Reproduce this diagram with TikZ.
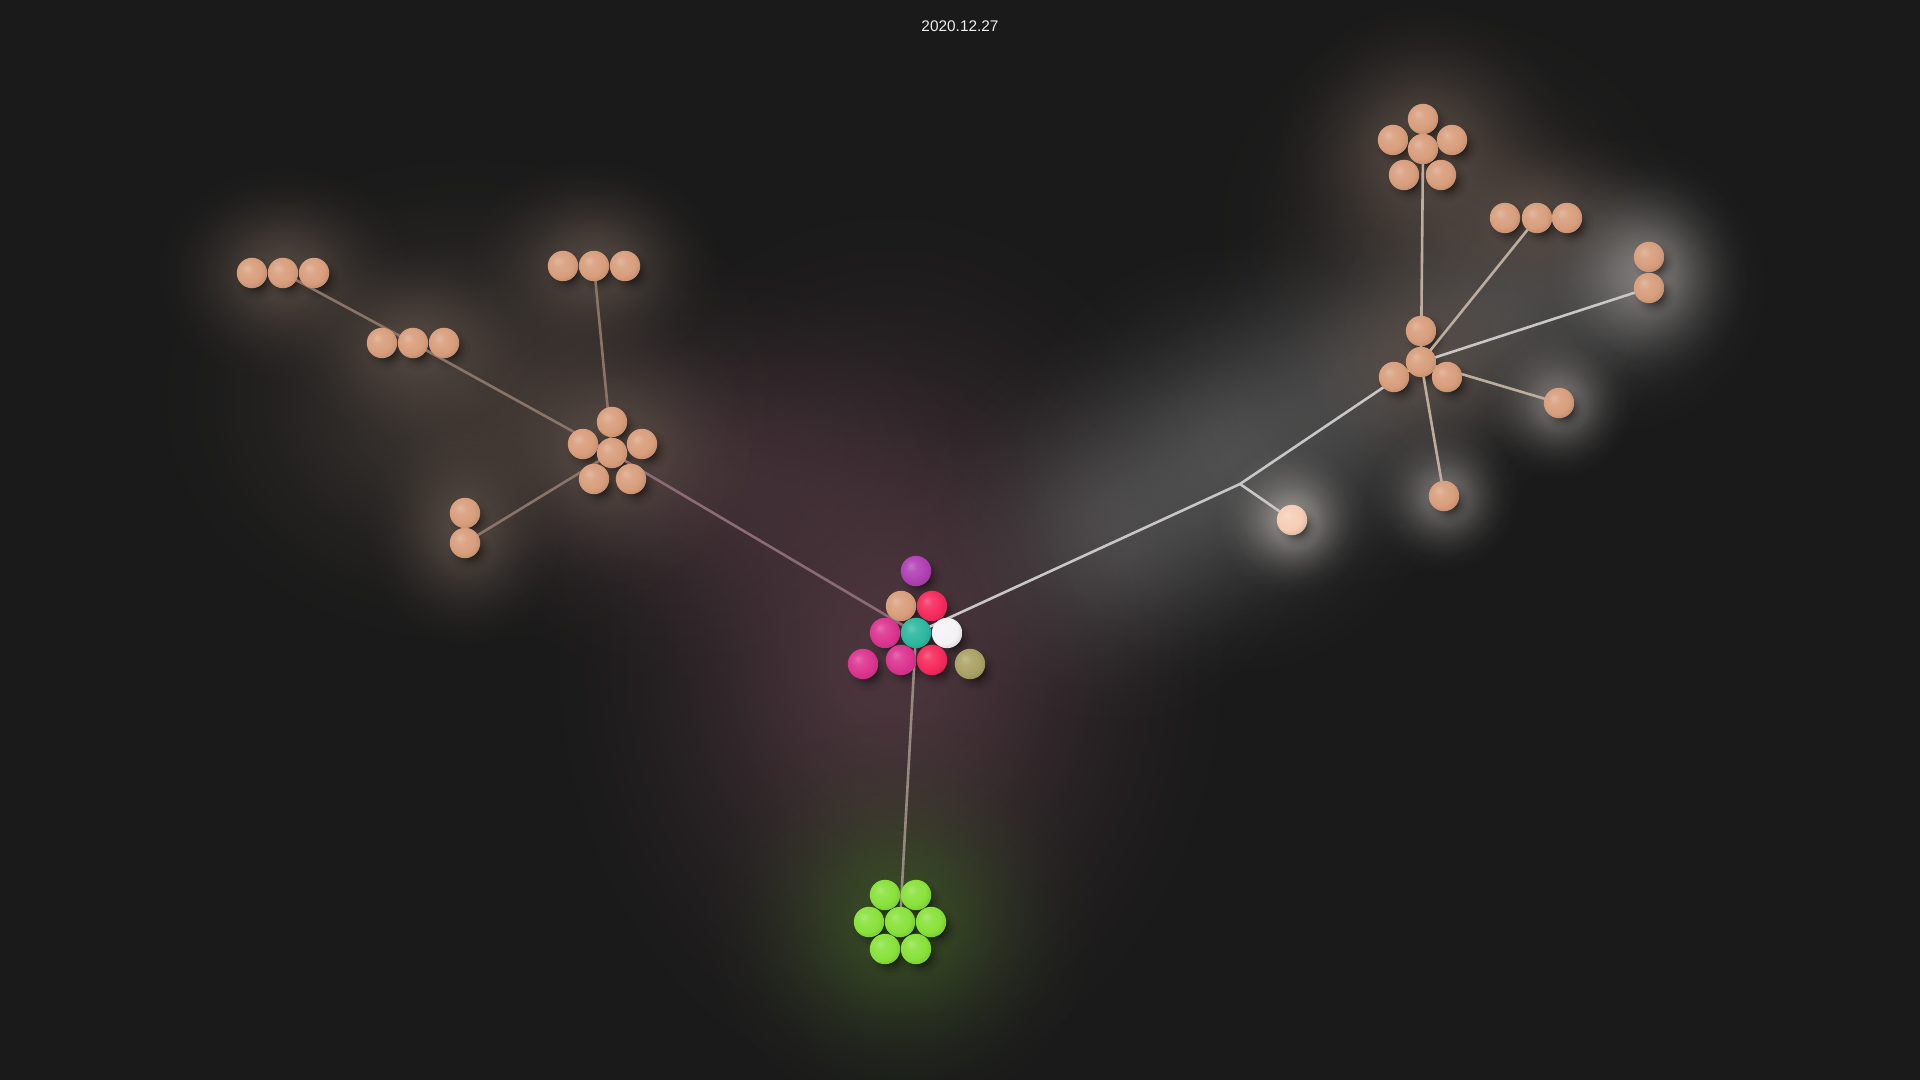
\documentclass[tikz,border=0pt]{standalone}
\usepackage{fontspec}
\setmainfont{Liberation Sans}
\usetikzlibrary{fadings}
\pgfdeclareradialshading{softsh}{\pgfpointorigin}{%
  color(0bp)=(black!0); color(4bp)=(black!10); color(8bp)=(black!32);
  color(12bp)=(black!58); color(16bp)=(black!78); color(20bp)=(black!92);
  color(25bp)=(black!100); color(50bp)=(black!100)}
\pgfdeclarefading{softfade}{\pgfuseshading{softsh}}
\makeatletter
\pgfdeclareradialshading[tikz@ball]{matteball}{\pgfpoint{-9bp}{9bp}}{%
  color(0bp)=(tikz@ball!72!white);
  color(9bp)=(tikz@ball!90!white);
  color(22bp)=(tikz@ball);
  color(34bp)=(tikz@ball!85!black);
  color(50bp)=(tikz@ball!78!black)}
\makeatother
\pgfdeclarelayer{glowl}
\pgfdeclarelayer{shadl}
\pgfdeclarelayer{linel}
\pgfsetlayers{glowl,shadl,linel,main}
\definecolor{bgc}{HTML}{1A1A1A}
\definecolor{tanb}{HTML}{D89E7C}
\definecolor{cpurple}{HTML}{B040B4}
\definecolor{cred}{HTML}{F52A5C}
\definecolor{cpink}{HTML}{DC3490}
\definecolor{cteal}{HTML}{2CB8A0}
\definecolor{cwhite}{HTML}{F4F2F4}
\definecolor{colive}{HTML}{AAA264}
\definecolor{cgreen}{HTML}{88E23A}
\definecolor{cpeach}{HTML}{F6CDB4}
\definecolor{glowtan}{HTML}{5E5048}
\definecolor{glowred}{HTML}{503840}
\definecolor{glowgrey}{HTML}{747474}
\definecolor{glowwhite}{HTML}{B8B2AE}
\definecolor{glowgreen}{HTML}{3E5E26}
\definecolor{lineL}{HTML}{8A7468}
\definecolor{lineC}{HTML}{8C6A78}
\definecolor{lineR}{HTML}{BCAE9F}
\definecolor{lineJ}{HTML}{C8C6C6}
\definecolor{lineD}{HTML}{968A80}
\tikzset{
  sph/.style={circle, inner sep=0pt, minimum size=15.2pt, ball color=#1, shading=matteball},
  edge/.style={line width=1.3pt, draw=#1, line cap=round},
  glow/.style={fill=#1, path fading=softfade},
  shadowdisc/.style={fill=black, fill opacity=0.75, path fading=softfade},
}
\begin{document}
\begin{tikzpicture}[x=0.5pt, y=-0.5pt]
\useasboundingbox (0,0) rectangle (1920,1080);
% ---------- center cluster
\node[sph=cpurple] (cP) at (916,571) {};
\node[sph=tanb]    (cT) at (901,606) {};
\node[sph=cred]    (cR1) at (932,606) {};
\node[sph=cpink]   (cK1) at (885,633) {};
\node[sph=cteal]   (cG) at (916,633) {};
\node[sph=cwhite]  (cW) at (947,633) {};
\node[sph=cpink]   (cK2) at (863,664) {};
\node[sph=cpink]   (cK3) at (901,660) {};
\node[sph=cred]    (cR2) at (932,660) {};
\node[sph=colive]  (cO) at (970,664) {};
% ---------- green cluster
\node[sph=cgreen] (g1) at (885,895) {};
\node[sph=cgreen] (g2) at (916,895) {};
\node[sph=cgreen] (g3) at (869,922) {};
\node[sph=cgreen] (g4) at (900,922) {};
\node[sph=cgreen] (g5) at (931,922) {};
\node[sph=cgreen] (g6) at (885,949) {};
\node[sph=cgreen] (g7) at (916,949) {};
% ---------- left hub
\node[sph=tanb] (h1) at (612,422) {};
\node[sph=tanb] (h2) at (583,444) {};
\node[sph=tanb] (h3) at (612,453) {};
\node[sph=tanb] (h4) at (642,444) {};
\node[sph=tanb] (h5) at (594,479) {};
\node[sph=tanb] (h6) at (631,479) {};
% rows left
\node[sph=tanb] (L1a) at (252,273) {};
\node[sph=tanb] (L1b) at (283,273) {};
\node[sph=tanb] (L1c) at (314,273) {};
\node[sph=tanb] (L2a) at (382,343) {};
\node[sph=tanb] (L2b) at (413,343) {};
\node[sph=tanb] (L2c) at (444,343) {};
\node[sph=tanb] (L3a) at (563,266) {};
\node[sph=tanb] (L3b) at (594,266) {};
\node[sph=tanb] (L3c) at (625,266) {};
\node[sph=tanb] (LPa) at (465,513) {};
\node[sph=tanb] (LPb) at (465,543) {};
% ---------- right hub
\node[sph=tanb] (r1) at (1421,331) {};
\node[sph=tanb] (r2) at (1421,362) {};
\node[sph=tanb] (r3) at (1394,377) {};
\node[sph=tanb] (r4) at (1447,377) {};
\node[sph=tanb] (T1) at (1423,119) {};
\node[sph=tanb] (T2) at (1393,140) {};
\node[sph=tanb] (T3) at (1423,149) {};
\node[sph=tanb] (T4) at (1452,140) {};
\node[sph=tanb] (T5) at (1404,175) {};
\node[sph=tanb] (T6) at (1441,175) {};
\node[sph=tanb] (RRa) at (1505,218) {};
\node[sph=tanb] (RRb) at (1537,218) {};
\node[sph=tanb] (RRc) at (1567,218) {};
\node[sph=tanb] (RPa) at (1649,257) {};
\node[sph=tanb] (RPb) at (1649,288) {};
\node[sph=tanb] (S1) at (1559,403) {};
\node[sph=tanb] (S2) at (1444,496) {};
\node[sph=cpeach] (JS) at (1292,520) {};
\coordinate (J) at (1240,484);
% ---------- title
\node[text=white!93!black, font=\fontsize{7.7}{9}\selectfont] (date) at (960,26) {2020.12.27};
% ---------- glows
\begin{pgfonlayer}{glowl}
\fill[bgc] (0,0) rectangle (1920,1080);
% broad hazes
\fill[glow=glowred, fill opacity=0.95] (890,650) ellipse (360 and 470);
\fill[glow=glowred, fill opacity=0.6] (720,480) ellipse (300 and 220);
\fill[glow=glowtan, fill opacity=0.55] (470,400) ellipse (330 and 260);
\fill[glow=glowtan, fill opacity=0.45] (1450,230) ellipse (250 and 230);
% grey haze along the right branch
\fill[glow=glowgrey, fill opacity=0.45] (1110,530) circle (200);
\fill[glow=glowgrey, fill opacity=0.55] (1230,460) circle (220);
\fill[glow=glowgrey, fill opacity=0.45] (1360,390) circle (200);
\fill[glow=glowgrey, fill opacity=0.45] (1500,320) circle (170);
\fill[glow=glowgrey, fill opacity=0.5] (1620,285) circle (150);
% cluster halos
\fill[glow=glowtan, fill opacity=0.8] (283,273) ellipse (130 and 110);
\fill[glow=glowtan, fill opacity=0.7] (413,343) ellipse (130 and 100);
\fill[glow=glowtan, fill opacity=0.8] (594,266) ellipse (130 and 110);
\fill[glow=glowtan, fill opacity=0.8] (465,528) ellipse (100 and 120);
\fill[glow=glowtan, fill opacity=0.8] (612,450) ellipse (150 and 140);
\fill[glow=glowgreen, fill opacity=0.7] (900,920) ellipse (200 and 200);
\fill[glow=glowtan, fill opacity=0.8] (1423,150) ellipse (150 and 150);
\fill[glow=glowtan, fill opacity=0.7] (1537,218) ellipse (130 and 100);
\fill[glow=glowtan, fill opacity=0.7] (1421,360) ellipse (140 and 130);
\fill[glow=glowwhite, fill opacity=0.55] (1559,403) ellipse (75 and 75);
\fill[glow=glowwhite, fill opacity=0.55] (1444,496) ellipse (75 and 75);
\fill[glow=glowwhite, fill opacity=0.5] (1649,272) ellipse (100 and 110);
\fill[glow=glowwhite, fill opacity=0.7] (1292,520) ellipse (75 and 75);
\end{pgfonlayer}
% ---------- shadows
\begin{pgfonlayer}{shadl}
\foreach \n in {cP,cT,cR1,cK1,cG,cW,cK2,cK3,cR2,cO,g1,g2,g3,g4,g5,g6,g7,
  h1,h2,h3,h4,h5,h6,L1a,L1b,L1c,L2a,L2b,L2c,L3a,L3b,L3c,LPa,LPb,
  r1,r2,r3,r4,T1,T2,T3,T4,T5,T6,RRa,RRb,RRc,RPa,RPb,S1,S2,JS}
  \fill[shadowdisc] ([shift={(5,6)}]\n.center) circle (22);
\end{pgfonlayer}
% ---------- connectors
\begin{pgfonlayer}{linel}
\draw[edge=lineL] (L1b.center) -- (L2b.center);
\draw[edge=lineL] (L2b.center) -- (h3.center);
\draw[edge=lineL] (L3b.center) -- (h3.center);
\draw[edge=lineL] (LPb.center) -- (h3.center);
\draw[edge=lineC] (h3.center) -- (cG.center);
\draw[edge=lineD] (cG.center) -- (g4.center);
\draw[edge=lineJ] (cG.center) -- (J);
\draw[edge=lineJ] (J) -- (JS.center);
\draw[edge=lineJ] (J) -- (r2.center);
\draw[edge=lineR] (r2.center) -- (T3.center);
\draw[edge=lineR] (r2.center) -- (RRb.center);
\draw[edge=lineJ] (r2.center) -- (RPb.center);
\draw[edge=lineR] (r2.center) -- (S1.center);
\draw[edge=lineR] (r2.center) -- (S2.center);
\end{pgfonlayer}
\end{tikzpicture}
\end{document}
